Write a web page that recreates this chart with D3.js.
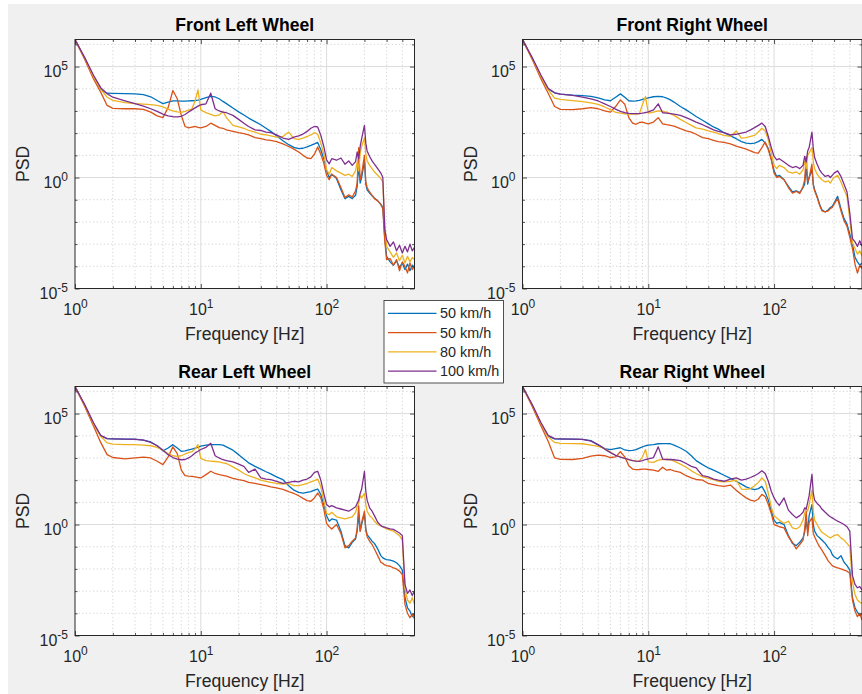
<!DOCTYPE html>
<html>
<head>
<meta charset="utf-8">
<script src="https://cdn.jsdelivr.net/npm/d3@7"></script>
<style>
  html, body { margin: 0; padding: 0; background: #ffffff; }
  svg { display: block; font-family: "Liberation Sans", Arial, Helvetica, sans-serif; }
</style>
</head>
<body>
<svg id="fig" width="862" height="694"></svg>
<script>
// Frequency grid shared by every spectrum (Hz)
const freq = [1, 1.2, 1.4, 1.6, 1.8, 2, 2.5, 3, 3.5, 4, 4.5, 5,
  5.5, 6, 6.5, 7, 7.5, 8, 8.5, 9, 9.5, 10, 11, 12,
  13, 14, 15, 16, 18, 20, 22, 24, 27, 30, 33, 36,
  40, 45, 50, 55, 60, 65, 70, 75, 80, 85, 90, 95,
  100, 105, 110, 120, 130, 140, 150, 160, 170, 175, 180, 185,
  190, 200, 205, 210, 220, 230, 240, 255, 270, 280, 290, 300,
  320, 340, 360, 380, 400, 420, 440, 460, 480, 500];

const speedLabels = ["50 km/h", "50 km/h", "80 km/h", "100 km/h"];
const wheelTitles = ["Front Left Wheel", "Front Right Wheel", "Rear Left Wheel", "Rear Right Wheel"];
const xTickValues = [1, 10, 100];
const yTickValues = [1e-5, 1, 1e5];
const yMaxExponent = 6.22;

// Spectra, stored as log10(PSD), one value per entry of freq
const frontLeft50a = [6.22, 5.35, 4.55, 3.98, 3.80, 3.79, 3.78, 3.77, 3.74, 3.64, 3.47, 3.33,
  3.40, 3.45, 3.45, 3.44, 3.44, 3.45, 3.46, 3.47, 3.49, 3.52, 3.60, 3.66,
  3.63, 3.55, 3.43, 3.33, 3.13, 2.96, 2.82, 2.68, 2.52, 2.38, 2.22, 2.08,
  1.88, 1.66, 1.48, 1.36, 1.30, 1.32, 1.38, 1.45, 1.52, 1.58, 1.25, 0.85,
  0.30, 0.00, 0.15, -0.05, -0.55, -0.95, -0.85, -0.95, -0.80, -0.40, 0.55, -0.25,
  0.00, 0.75, -0.30, -0.55, -0.70, -0.82, -0.92, -1.05, -1.20, -1.35, -2.70, -3.55,
  -3.80, -3.95, -3.75, -4.05, -3.85, -4.15, -3.90, -4.20, -3.95, -4.10];
const frontLeft50b = [6.22, 5.30, 4.45, 3.85, 3.25, 3.12, 3.10, 3.10, 3.07, 2.95, 2.78, 2.70,
  3.15, 3.92, 3.55, 2.80, 2.30, 2.24, 2.27, 2.30, 2.26, 2.24, 2.30, 2.45,
  2.35, 2.25, 2.22, 2.15, 2.08, 2.02, 1.98, 1.92, 1.80, 1.75, 1.70, 1.67,
  1.62, 1.52, 1.40, 1.28, 1.15, 1.00, 0.88, 0.85, 1.05, 1.38, 1.05, 0.65,
  0.10, -0.10, 0.15, 0.00, -0.45, -0.90, -0.78, -0.88, -0.60, -0.25, 1.35, -0.10,
  0.15, 1.00, -0.20, -0.45, -0.65, -0.80, -0.95, -1.05, -1.22, -1.40, -2.85, -3.70,
  -3.65, -3.95, -3.70, -4.20, -3.80, -4.00, -4.30, -3.85, -4.15, -3.95];
const frontLeft80 = [6.22, 5.35, 4.55, 3.98, 3.62, 3.48, 3.38, 3.33, 3.31, 3.29, 3.25, 3.18,
  3.08, 3.00, 2.96, 2.94, 2.98, 3.04, 3.10, 3.45, 3.95, 3.05, 2.92, 2.85,
  2.78, 2.82, 2.98, 2.70, 2.35, 2.28, 2.22, 2.12, 2.05, 1.95, 1.92, 1.88,
  1.82, 1.85, 2.05, 1.75, 1.72, 1.78, 1.85, 1.92, 2.02, 1.95, 1.55, 1.05,
  0.35, 0.15, 0.45, 0.30, 0.20, 0.10, 0.15, 0.05, 0.30, 0.70, 0.30, 1.10,
  1.40, 1.80, 1.05, 0.75, 0.55, 0.40, 0.25, 0.10, -0.05, -0.20, -2.10, -3.10,
  -3.35, -3.60, -3.40, -3.75, -3.50, -3.85, -3.55, -3.80, -3.60, -3.70];
const frontLeft100 = [6.22, 5.38, 4.62, 4.05, 3.78, 3.62, 3.46, 3.33, 3.22, 3.10, 2.98, 2.86,
  2.78, 2.74, 2.73, 2.76, 2.84, 2.95, 3.05, 3.14, 3.22, 3.28, 3.32, 3.80,
  3.10, 3.00, 2.95, 2.92, 2.80, 2.62, 2.45, 2.30, 2.15, 2.12, 2.05, 2.02,
  1.92, 1.78, 1.72, 1.82, 1.88, 1.96, 2.08, 2.22, 2.30, 2.28, 1.90, 1.40,
  0.80, 0.62, 0.85, 0.78, 0.88, 0.60, 0.75, 0.55, 0.72, 1.15, 0.85, 1.40,
  1.75, 2.35, 1.55, 1.20, 0.95, 0.75, 0.60, 0.40, 0.20, 0.00, -2.35, -2.80,
  -3.10, -2.90, -3.30, -3.05, -3.40, -3.10, -3.35, -3.00, -3.30, -3.15];

const frontRight50a = [6.22, 5.35, 4.55, 3.98, 3.82, 3.76, 3.71, 3.69, 3.66, 3.59, 3.50, 3.46,
  3.62, 3.77, 3.62, 3.46, 3.44, 3.45, 3.48, 3.52, 3.56, 3.59, 3.64, 3.66,
  3.64, 3.58, 3.50, 3.40, 3.20, 3.05, 2.90, 2.75, 2.58, 2.42, 2.28, 2.18,
  2.02, 1.88, 1.75, 1.62, 1.55, 1.53, 1.55, 1.62, 1.72, 1.55, 1.30, 0.85,
  0.30, 0.05, 0.10, -0.10, -0.40, -0.65, -0.60, -0.68, -0.45, -0.30, 0.50, -0.30,
  0.00, 0.35, -0.30, -0.55, -0.85, -1.20, -1.45, -1.55, -1.45, -1.35, -1.30, -1.15,
  -0.85, -1.40, -1.85, -2.10, -2.55, -3.00, -3.60, -3.80, -3.95, -3.85];
const frontRight50b = [6.22, 5.30, 4.45, 3.80, 3.20, 3.07, 3.06, 3.10, 3.15, 3.10, 3.00, 2.95,
  3.20, 3.50, 3.30, 2.70, 2.45, 2.40, 2.48, 2.50, 2.45, 2.42, 2.50, 2.70,
  2.42, 2.38, 2.35, 2.32, 2.20, 2.10, 2.05, 1.95, 1.80, 1.75, 1.68, 1.62,
  1.58, 1.52, 1.42, 1.35, 1.28, 1.20, 1.12, 1.10, 1.35, 1.60, 1.25, 0.80,
  0.20, 0.00, 0.05, -0.10, -0.45, -0.70, -0.62, -0.72, -0.40, -0.10, 0.95, -0.20,
  0.00, 0.60, -0.35, -0.60, -0.90, -1.25, -1.50, -1.55, -1.50, -1.40, -1.35, -1.20,
  -0.95, -1.50, -1.95, -2.20, -2.70, -3.20, -3.90, -4.30, -3.95, -4.10];
const frontRight80 = [6.22, 5.35, 4.55, 3.95, 3.58, 3.52, 3.47, 3.42, 3.36, 3.30, 3.18, 3.06,
  2.94, 2.90, 2.87, 2.86, 2.86, 2.86, 2.88, 3.30, 3.65, 2.90, 2.95, 3.00,
  2.98, 2.95, 2.88, 2.80, 2.62, 2.48, 2.35, 2.24, 2.18, 2.10, 2.05, 1.98,
  1.90, 1.85, 2.10, 1.78, 1.80, 1.85, 1.90, 2.05, 2.22, 2.10, 1.70, 1.10,
  0.55, 0.40, 0.55, 0.45, 0.25, 0.20, 0.25, 0.15, 0.35, 0.75, 0.40, 1.00,
  1.10, 1.35, 0.70, 0.40, 0.15, 0.00, -0.10, -0.20, -0.15, -0.25, -0.10, 0.00,
  0.10, -0.20, -0.55, -0.85, -1.90, -2.95, -3.20, -3.45, -3.30, -3.55];
const frontRight100 = [6.22, 5.38, 4.62, 4.02, 3.82, 3.76, 3.70, 3.62, 3.54, 3.45, 3.32, 3.20,
  3.08, 2.98, 2.92, 2.89, 2.88, 2.88, 2.88, 2.90, 2.93, 2.96, 3.05, 3.32,
  2.92, 2.90, 2.88, 2.86, 2.80, 2.70, 2.60, 2.50, 2.38, 2.26, 2.15, 2.08,
  2.02, 1.92, 1.95, 2.00, 2.05, 2.15, 2.25, 2.35, 2.45, 2.30, 1.85, 1.35,
  0.95, 0.80, 0.85, 0.70, 0.55, 0.45, 0.50, 0.40, 0.55, 0.95, 0.70, 1.20,
  1.35, 2.05, 1.30, 0.90, 0.60, 0.35, 0.20, 0.05, 0.10, 0.00, 0.10, 0.20,
  0.30, 0.05, -0.30, -0.65, -1.60, -2.75, -2.90, -3.10, -2.85, -3.10];

const rearLeft50a = [6.22, 5.35, 4.55, 4.00, 3.87, 3.86, 3.85, 3.85, 3.80, 3.72, 3.55, 3.32,
  3.45, 3.60, 3.45, 3.30, 3.32, 3.36, 3.40, 3.44, 3.48, 3.53, 3.58, 3.60,
  3.60, 3.60, 3.58, 3.50, 3.35, 3.15, 2.95, 2.78, 2.62, 2.50, 2.38, 2.28,
  2.15, 2.02, 1.75, 1.55, 1.45, 1.42, 1.45, 1.48, 1.55, 1.60, 1.35, 0.90,
  0.40, 0.15, 0.25, 0.20, -0.30, -0.95, -1.05, -0.80, -0.65, -0.30, 0.45, -0.30,
  0.00, 0.50, -0.20, -0.45, -0.60, -0.75, -0.85, -1.10, -1.40, -1.50, -1.55, -1.58,
  -1.60, -1.65, -1.72, -1.85, -2.05, -3.30, -3.75, -3.90, -4.15, -4.00];
const rearLeft50b = [6.22, 5.30, 4.45, 3.70, 3.15, 3.02, 2.96, 3.00, 3.04, 3.00, 2.85, 2.70,
  3.05, 3.50, 3.20, 2.45, 2.20, 2.18, 2.17, 2.15, 2.12, 2.10, 2.25, 2.40,
  2.30, 2.25, 2.22, 2.18, 2.08, 2.02, 1.98, 1.90, 1.85, 1.80, 1.75, 1.70,
  1.65, 1.58, 1.48, 1.40, 1.30, 1.18, 1.08, 1.05, 1.20, 1.42, 1.20, 0.70,
  0.05, -0.10, -0.20, 0.00, -0.40, -1.05, -0.95, -0.75, -0.60, -0.20, 0.85, -0.30,
  0.10, 0.60, -0.25, -0.55, -0.75, -0.90, -1.10, -1.40, -1.70, -1.75, -1.82, -1.85,
  -1.88, -1.95, -2.00, -2.10, -2.25, -3.60, -4.00, -4.20, -4.05, -4.25];
const rearLeft80 = [6.22, 5.35, 4.55, 3.98, 3.68, 3.62, 3.60, 3.60, 3.58, 3.55, 3.48, 3.35,
  3.20, 3.10, 3.07, 3.10, 3.18, 3.24, 3.28, 3.40, 3.60, 2.98, 2.88, 2.86,
  2.84, 2.82, 2.78, 2.75, 2.60, 2.45, 2.30, 2.20, 2.10, 2.00, 1.95, 1.90,
  1.85, 1.82, 1.85, 1.75, 1.75, 1.80, 1.85, 1.92, 1.98, 2.05, 1.70, 1.10,
  0.50, 0.45, 0.55, 0.35, 0.30, 0.25, 0.30, 0.35, 0.55, 0.80, 0.95, 1.30,
  1.20, 1.40, 0.90, 0.60, 0.40, 0.30, 0.15, 0.00, -0.05, -0.10, -0.15, -0.20,
  -0.25, -0.30, -0.40, -0.50, -0.70, -2.90, -3.40, -3.55, -3.30, -3.60];
const rearLeft100 = [6.22, 5.38, 4.60, 4.02, 3.87, 3.86, 3.85, 3.84, 3.80, 3.70, 3.55, 3.35,
  3.15, 3.02, 2.95, 2.92, 2.93, 3.00, 3.10, 3.22, 3.30, 3.38, 3.48, 3.66,
  3.10, 3.00, 2.92, 2.88, 2.82, 2.72, 2.62, 2.35, 2.50, 2.10, 2.05, 2.02,
  1.95, 1.85, 1.90, 1.95, 1.92, 2.00, 2.05, 2.15, 2.35, 2.40, 2.00, 1.40,
  0.90, 0.80, 0.85, 0.75, 0.70, 0.65, 0.60, 0.70, 0.80, 0.95, 1.10, 1.40,
  1.60, 2.40, 1.50, 1.10, 0.75, 0.60, 0.40, 0.10, -0.05, -0.10, -0.12, -0.15,
  -0.20, -0.22, -0.30, -0.38, -0.50, -2.70, -3.10, -2.95, -3.20, -3.00];

const rearRight50a = [6.22, 5.35, 4.55, 3.98, 3.86, 3.85, 3.85, 3.84, 3.78, 3.58, 3.42, 3.38,
  3.42, 3.46, 3.36, 3.33, 3.34, 3.38, 3.44, 3.50, 3.55, 3.58, 3.60, 3.64,
  3.65, 3.65, 3.64, 3.58, 3.45, 3.30, 3.10, 2.88, 2.70, 2.55, 2.45, 2.35,
  2.22, 2.08, 1.95, 1.82, 1.70, 1.62, 1.57, 1.62, 1.72, 1.45, 1.10, 0.60,
  0.20, 0.05, 0.10, 0.00, -0.50, -0.85, -0.95, -0.80, -0.60, -0.35, 0.20, -0.30,
  0.40, 0.90, 0.00, -0.30, -0.50, -0.60, -0.70, -0.85, -1.05, -1.15, -1.35, -1.45,
  -1.55, -1.40, -1.70, -1.85, -2.05, -3.30, -3.75, -3.95, -4.10, -4.05];
const rearRight50b = [6.22, 5.30, 4.45, 3.75, 3.00, 2.94, 2.93, 2.98, 3.08, 3.13, 3.10, 3.02,
  3.05, 3.28, 3.05, 2.65, 2.50, 2.47, 2.48, 2.50, 2.50, 2.48, 2.45, 2.40,
  2.58, 2.45, 2.48, 2.42, 2.35, 2.20, 2.10, 2.03, 2.00, 1.85, 1.80, 1.75,
  1.72, 1.78, 1.55, 1.35, 1.20, 1.10, 1.05, 1.15, 1.36, 1.25, 0.90, 0.50,
  0.00, -0.05, -0.10, -0.15, -0.55, -0.80, -1.10, -0.90, -0.70, -0.20, 0.60, -0.50,
  0.10, 0.30, -0.40, -0.55, -0.80, -1.00, -1.15, -1.40, -1.65, -1.75, -1.85, -1.90,
  -1.95, -2.00, -2.05, -2.10, -2.20, -3.40, -3.90, -4.15, -4.00, -4.30];
const rearRight80 = [6.22, 5.35, 4.55, 3.95, 3.70, 3.66, 3.65, 3.64, 3.58, 3.52, 3.42, 3.26,
  3.12, 3.05, 2.98, 2.92, 2.88, 2.86, 2.87, 3.05, 3.38, 2.82, 2.80, 2.90,
  2.93, 2.93, 2.92, 2.86, 2.72, 2.58, 2.42, 2.30, 2.15, 2.08, 2.02, 1.95,
  1.92, 1.95, 2.00, 1.60, 1.58, 1.62, 1.75, 1.90, 2.10, 1.95, 1.40, 0.78,
  0.40, 0.30, 0.20, 0.05, 0.15, -0.15, -0.20, -0.10, 0.20, 0.50, 0.75, 0.60,
  0.90, 1.55, 0.60, 0.20, 0.00, -0.20, -0.35, -0.45, -0.55, -0.60, -0.55, -0.50,
  -0.45, -0.60, -0.70, -0.85, -1.00, -2.60, -3.15, -3.40, -3.50, -3.55];
const rearRight100 = [6.22, 5.38, 4.60, 4.02, 3.87, 3.86, 3.85, 3.84, 3.76, 3.60, 3.40, 3.24,
  3.12, 3.04, 2.98, 2.93, 2.88, 2.86, 2.85, 2.88, 2.93, 2.96, 3.02, 3.50,
  2.95, 2.93, 2.93, 2.92, 2.88, 2.75, 2.62, 2.55, 2.20, 2.15, 2.05, 2.00,
  1.95, 2.05, 2.10, 2.00, 2.05, 2.12, 2.20, 2.30, 2.42, 2.30, 1.95, 1.50,
  1.20, 1.00, 0.86, 1.20, 0.65, 0.45, 0.30, 0.40, 0.55, 0.75, 0.70, 1.00,
  1.30, 2.26, 1.40, 1.10, 0.95, 0.85, 0.70, 0.55, 0.42, 0.35, 0.30, 0.25,
  0.15, 0.08, 0.00, -0.10, -0.30, -2.30, -2.70, -2.85, -2.80, -2.95];

const wheelSpectra = [
  [frontLeft50a, frontLeft50b, frontLeft80, frontLeft100],
  [frontRight50a, frontRight50b, frontRight80, frontRight100],
  [rearLeft50a, rearLeft50b, rearLeft80, rearLeft100],
  [rearRight50a, rearRight50b, rearRight80, rearRight100]
];

// ---------- drawing ----------
const colors = ["#0072BD", "#D95319", "#EDB120", "#7E2F8E"];
const axisColor = "#262626";
const svg = d3.select("#fig");

// figure background (thin white margin on the left/top edges)
svg.append("rect").attr("x", 8).attr("y", 4).attr("width", 854).attr("height", 690).attr("fill", "#f0f0f0");

const boxes = [
  { x0: 75, x1: 414.5, y0: 39.5, y1: 288.5 },
  { x0: 522.5, x1: 862, y0: 39.5, y1: 288.5 },
  { x0: 75, x1: 414.5, y0: 386.5, y1: 635.5 },
  { x0: 522.5, x1: 862, y0: 386.5, y1: 635.5 }
];

const minorX = [];
[1, 10, 100].forEach(d => { for (let m = 2; m <= 9; m++) if (d * m < 500) minorX.push(d * m); });
const minorY = [];
for (let e = -4; e <= 6; e++) if (e !== 0 && e !== 5) minorY.push(Math.pow(10, e));

function supLabel(sel, d) {
  sel.text(null);
  sel.append("tspan").text("10");
  sel.append("tspan").attr("dy", -7).attr("font-size", 12).text(String(Math.round(Math.log10(d))));
}

boxes.forEach((b, i) => {
  const w = b.x1 - b.x0, h = b.y1 - b.y0;
  const x = d3.scaleLog().domain([1, 500]).range([0, w]);
  const y = d3.scaleLog().domain([1e-5, Math.pow(10, yMaxExponent)]).range([h, 0]);
  const g = svg.append("g").attr("transform", `translate(${b.x0},${b.y0})`);

  g.append("rect").attr("width", w).attr("height", h).attr("fill", "#ffffff");

  // minor grid (dotted)
  g.append("g").selectAll("line").data(minorX).join("line")
    .attr("x1", d => x(d)).attr("x2", d => x(d)).attr("y1", 0).attr("y2", h)
    .attr("stroke", "#c8c8c8").attr("stroke-width", 0.8).attr("stroke-dasharray", "1.2,2.4");
  g.append("g").selectAll("line").data(minorY).join("line")
    .attr("x1", 0).attr("x2", w).attr("y1", d => y(d)).attr("y2", d => y(d))
    .attr("stroke", "#c8c8c8").attr("stroke-width", 0.8).attr("stroke-dasharray", "1.2,2.4");
  // major grid (solid)
  g.append("g").selectAll("line").data([10, 100]).join("line")
    .attr("x1", d => x(d)).attr("x2", d => x(d)).attr("y1", 0).attr("y2", h)
    .attr("stroke", "#dcdcdc").attr("stroke-width", 1);
  g.append("g").selectAll("line").data([1, 1e5]).join("line")
    .attr("x1", 0).attr("x2", w).attr("y1", d => y(d)).attr("y2", d => y(d))
    .attr("stroke", "#dcdcdc").attr("stroke-width", 1);

  // spectra
  const clipId = "clip" + i;
  g.append("clipPath").attr("id", clipId).append("rect").attr("width", w).attr("height", h);
  const line = d3.line().x(d => x(d[0])).y(d => y(Math.pow(10, d[1])));
  g.append("g").attr("clip-path", `url(#${clipId})`)
    .selectAll("path").data(wheelSpectra[i]).join("path")
    .attr("d", s => line(d3.zip(freq, s)))
    .attr("fill", "none")
    .attr("stroke", (s, k) => colors[k])
    .attr("stroke-width", 1.3)
    .attr("stroke-linejoin", "round");

  // axes with inward ticks
  const styleAxis = sel => {
    sel.select(".domain").remove();
    sel.selectAll(".tick line").attr("stroke", axisColor).attr("stroke-width", 0.8);
  };
  const bottom = g.append("g").attr("transform", `translate(0,${h})`)
    .call(d3.axisBottom(x).tickValues(xTickValues).tickSize(-4.5));
  styleAxis(bottom);
  bottom.selectAll(".tick text")
    .attr("y", 26.5).attr("dy", null)
    .attr("font-size", 16).attr("font-family", "Liberation Sans, Arial, sans-serif")
    .attr("fill", axisColor)
    .each(function (d) { supLabel(d3.select(this), d); });
  g.append("g").attr("transform", `translate(0,${h})`)
    .call(d3.axisBottom(x).tickValues(minorX).tickSize(-2.5).tickFormat(""))
    .call(styleAxis);
  g.append("g").call(d3.axisTop(x).tickValues(xTickValues).tickSize(-4.5).tickFormat("")).call(styleAxis);
  g.append("g").call(d3.axisTop(x).tickValues(minorX).tickSize(-2.5).tickFormat("")).call(styleAxis);

  const left = g.append("g").call(d3.axisLeft(y).tickValues(yTickValues).tickSize(-4.5).tickPadding(7));
  styleAxis(left);
  left.selectAll(".tick text")
    .attr("y", 9.5).attr("dy", null)
    .attr("font-size", 16).attr("font-family", "Liberation Sans, Arial, sans-serif")
    .attr("fill", axisColor)
    .each(function (d) { supLabel(d3.select(this), d); });
  g.append("g").call(d3.axisLeft(y).tickValues(minorY).tickSize(-2.5).tickFormat("")).call(styleAxis);
  g.append("g").attr("transform", `translate(${w},0)`)
    .call(d3.axisRight(y).tickValues(yTickValues).tickSize(-4.5).tickFormat("")).call(styleAxis);
  g.append("g").attr("transform", `translate(${w},0)`)
    .call(d3.axisRight(y).tickValues(minorY).tickSize(-2.5).tickFormat("")).call(styleAxis);

  // axes box
  g.append("rect").attr("width", w).attr("height", h)
    .attr("fill", "none").attr("stroke", axisColor).attr("stroke-width", 1);

  // title and labels
  g.append("text").attr("x", (x(1) + x(500)) / 2).attr("y", -8.5)
    .attr("text-anchor", "middle").attr("font-size", 17.6).attr("font-weight", "bold")
    .attr("fill", "#000").text(wheelTitles[i]);
  g.append("text").attr("x", (x(1) + x(500)) / 2).attr("y", h + 51)
    .attr("text-anchor", "middle").attr("font-size", 17.6).attr("fill", axisColor)
    .text("Frequency [Hz]");
  g.append("text").attr("transform", `translate(-46,${h / 2}) rotate(-90)`)
    .attr("text-anchor", "middle").attr("font-size", 17.6).attr("fill", axisColor)
    .text("PSD");
});

// legend
const lg = svg.append("g").attr("transform", "translate(384,300.5)");
lg.append("rect").attr("width", 119.5).attr("height", 82.5)
  .attr("fill", "#ffffff").attr("stroke", axisColor).attr("stroke-width", 0.8);
const rows = lg.selectAll("g.row").data(speedLabels).join("g").attr("class", "row")
  .attr("transform", (d, k) => `translate(0,${12.8 + k * 19.3})`);
rows.append("line").attr("x1", 4).attr("x2", 52.5).attr("y1", 0).attr("y2", 0)
  .attr("stroke", (d, k) => colors[k]).attr("stroke-width", 1.3);
rows.append("text").attr("x", 56).attr("y", 5).attr("font-size", 14.4)
  .attr("fill", axisColor).text(d => d);
</script>
</body>
</html>
